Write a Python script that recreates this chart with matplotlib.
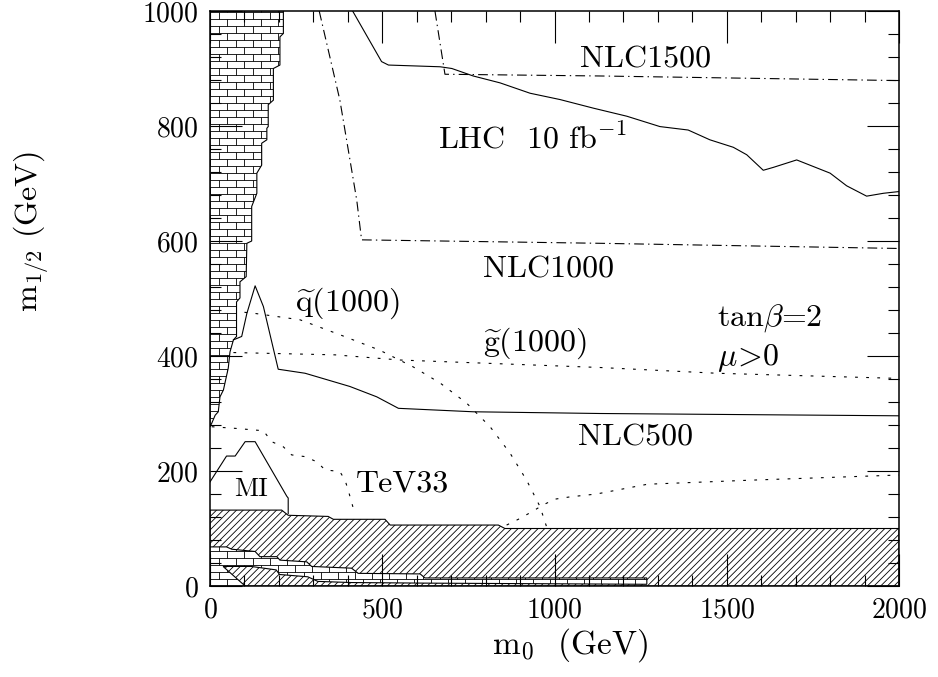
import matplotlib
matplotlib.use("Agg")
import matplotlib.pyplot as plt
from matplotlib.patches import Polygon
from matplotlib.collections import LineCollection
from matplotlib.ticker import MultipleLocator

plt.rcParams['font.family'] = 'cmr10'
plt.rcParams['mathtext.fontset'] = 'cm'
plt.rcParams['axes.formatter.use_mathtext'] = True
plt.rcParams['hatch.linewidth'] = 0.6
plt.rcParams['lines.scale_dashes'] = False

# --- curves (m0, m1/2 in GeV) ---
lhc_m0 = [414, 498, 518, 668, 702, 764, 842, 929, 1016, 1113, 1210, 1306, 1388,
          1451, 1519, 1558, 1606, 1635, 1703, 1800, 1848, 1906, 1955, 2000]
lhc_m12 = [1000, 912, 906, 903, 900, 887, 875, 857, 846, 831, 817, 799, 793,
           776, 763, 750, 723, 728, 741, 718, 696, 678, 683, 686]

nlc1500_m0 = [653, 682, 1132, 2000]
nlc1500_m12 = [1000, 890, 887, 879]

nlc1000_m0 = [317, 377, 426, 440, 1132, 2000]
nlc1000_m12 = [1000, 845, 671, 602, 596, 587]

nlc500_m0 = [68, 92, 107, 131, 155, 198, 276, 310, 406, 484, 547, 764, 1132, 2000]
nlc500_m12 = [428, 434, 474, 522, 486, 377, 370, 364, 347, 329, 309, 303, 300, 296]

sq_m0 = [100, 131, 261, 377, 493, 590, 668, 745, 813, 871, 919, 958, 977]
sq_m12 = [476, 474, 463, 437, 410, 381, 353, 318, 277, 231, 184, 138, 103]

gl_m0 = [68, 363, 552, 1132, 1471, 2000]
gl_m12 = [406, 402, 393, 380, 370, 361]

tev_m0 = [5, 77, 155, 179, 213, 237, 276, 310, 334, 377, 392, 401, 416, 420]
tev_m12 = [277, 274, 270, 251, 242, 228, 225, 216, 202, 199, 184, 167, 135, 127]

tev_hi_m0 = [861, 895, 934, 967, 1001, 1045, 1122, 1270, 1567, 2000]
tev_hi_m12 = [106, 116, 129, 141, 151, 155, 160, 177, 184, 193]

mi_m0 = [0, 48, 73, 102, 131, 223, 227, 227]
mi_m12 = [181, 226, 226, 251, 251, 156, 153, 126]

# excluded regions
band_m0 = [0, 208, 227, 343, 358, 508, 523, 837, 856, 2000]
band_m12 = [132, 132, 123, 121, 116, 116, 106, 106, 100, 100]

left_m0 = [0, 213, 213, 203, 203, 184, 184, 169, 169, 165, 165, 150, 150, 136, 136,
           121, 121, 107, 105, 87, 87, 77, 77, 68, 58, 53, 39, 29, 24, 15, 5, 0]
left_m12 = [1000, 1000, 961, 955, 906, 900, 845, 837, 799, 796, 776, 770, 732, 718, 683,
            660, 600, 596, 538, 529, 501, 494, 434, 428, 407, 379, 341, 329, 303, 297, 283, 277]

low_m0 = [0, 48, 63, 131, 145, 194, 203, 281, 295, 411, 430, 610, 624, 1268,
          1268, 624, 411, 313, 284, 202, 192, 120, 38, 102, 0]
low_m12 = [68, 68, 64, 60, 51, 51, 45, 42, 34, 31, 22, 21, 14, 14,
           3, 5, 6, 8, 16, 20, 28, 34, 34, 0, 0]


def add_bricks(ax, patch, row=7 / 575, width=17 / 689):
    segs = []
    k = 0
    y0 = 0.0
    while y0 < 1:
        segs.append([(0, y0), (1, y0)])
        x = 0.5 * width * (k % 2)
        while x < 1:
            segs.append([(x, y0), (x, y0 + row)])
            x += width
        y0 += row
        k += 1
    lc = LineCollection(segs, colors='k', linewidths=0.6,
                        transform=ax.transAxes, zorder=1.2)
    ax.add_collection(lc, autolim=False)
    lc.set_clip_path(patch)


fig = plt.figure(figsize=(9.38, 6.77), dpi=100)
ax = fig.add_axes([210 / 938, 1 - 586 / 677, 689 / 938, 575 / 677])

band = Polygon(list(zip(band_m0 + [2000, 0], band_m12 + [0, 0])), closed=True,
               facecolor='white', edgecolor='k', hatch='/////', lw=0.8, zorder=1)
ax.add_patch(band)

for xs, ys in [(left_m0, left_m12), (low_m0, low_m12)]:
    p = Polygon(list(zip(xs, ys)), closed=True, facecolor='white',
                edgecolor='k', lw=0.8, zorder=1.1)
    ax.add_patch(p)
    add_bricks(ax, p)

kw = dict(color='k', lw=0.8)
ax.plot(lhc_m0, lhc_m12, **kw)
ax.plot(nlc500_m0, nlc500_m12, **kw)
ax.plot(mi_m0, mi_m12, **kw)
dashdot = (0, (7, 3, 1, 3))
ax.plot(nlc1500_m0, nlc1500_m12, ls=dashdot, **kw)
ax.plot(nlc1000_m0, nlc1000_m12, ls=dashdot, **kw)
dots = (0, (2, 6))
for xs, ys in [(sq_m0, sq_m12), (gl_m0, gl_m12), (tev_m0, tev_m12), (tev_hi_m0, tev_hi_m12)]:
    ax.plot(xs, ys, ls=dots, **kw)

ax.set_xlim(0, 2000)
ax.set_ylim(0, 1000)

fs = 23
ax.text(1263, 915, 'NLC1500', fontsize=fs, ha='center', va='center')
ax.text(935, 778, r'LHC  10 fb$^{-1}$', fontsize=fs, ha='center', va='center')
ax.text(982, 550, 'NLC1000', fontsize=fs, ha='center', va='center')
ax.text(398, 492, r'$\widetilde{\mathrm{q}}$(1000)', fontsize=fs, ha='center', va='center')
ax.text(944, 422, r'$\widetilde{\mathrm{g}}$(1000)', fontsize=fs, ha='center', va='center')
ax.text(1471, 466, r'tan$\beta$=2', fontsize=fs, ha='left', va='center')
ax.text(1471, 397, r'$\mu\!>\!0$', fontsize=fs, ha='left', va='center')
ax.text(1236, 258, 'NLC500', fontsize=fs, ha='center', va='center')
ax.text(560, 177, 'TeV33', fontsize=fs, ha='center', va='center')
ax.text(118, 169, 'MI', fontsize=19, ha='center', va='center')

ax.set_xticks([0, 500, 1000, 1500, 2000])
ax.set_yticks([0, 200, 400, 600, 800, 1000])
ax.xaxis.set_minor_locator(MultipleLocator(100))
ax.yaxis.set_minor_locator(MultipleLocator(40))
ax.tick_params(which='both', direction='in', top=True, right=True, width=0.8)
ax.tick_params(which='major', length=23, labelsize=20, pad=8)
ax.tick_params(which='minor', length=8)
for s in ax.spines.values():
    s.set_linewidth(1.1)

fig.text(570 / 938, 1 - 645 / 677, r'm$_0$  (GeV)', fontsize=24, ha='center', va='center')
fig.text(31 / 938, 1 - 231 / 677, r'm$_{1/2}$ (GeV)', fontsize=fs, ha='center',
         va='center', rotation=90)

fig.savefig('out.png', dpi=100)
